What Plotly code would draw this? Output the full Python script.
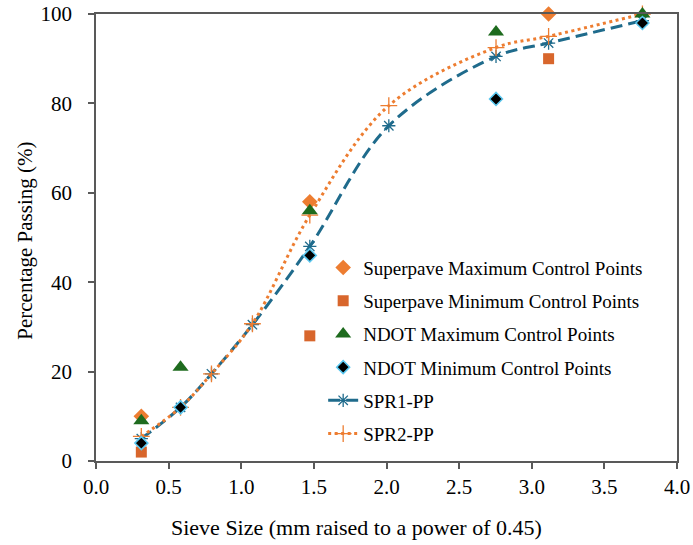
import plotly.graph_objects as go

sieve = [0.312, 0.582, 0.795, 1.077, 1.472, 2.016, 2.754, 3.116, 3.762]
spr1 = [5, 12, 19.5, 30.5, 48, 75, 90.5, 93.5, 98.5]
spr2 = [5.5, 12, 19.5, 30.7, 55, 79.5, 92.5, 95, 100]

sp_max_x = [0.312, 1.472, 3.116]
sp_max_y = [10, 58, 100]
sp_min_x = [0.312, 1.472, 3.116]
sp_min_y = [2, 28, 90]
ndot_max_x = [0.312, 0.582, 1.472, 2.754, 3.762]
ndot_max_y = [9, 21, 56, 96, 100]
ndot_min_x = [0.312, 0.582, 1.472, 2.754, 3.762]
ndot_min_y = [4, 12, 46, 81, 98]

x_ticks = [0, 0.5, 1.0, 1.5, 2.0, 2.5, 3.0, 3.5, 4.0]
y_ticks = [0, 20, 40, 60, 80, 100]

FONT = "Liberation Serif"

fig = go.Figure()
fig.add_trace(go.Scatter(x=sieve, y=spr1, mode="lines+markers", name="SPR1-PP", line_shape="spline",
                         line=dict(color="#1F6B8C", width=3, dash="12px,6px"),
                         marker=dict(symbol="asterisk-open", size=11, color="#1F6B8C",
                                     line=dict(width=1.3, color="#1F6B8C")),
                         cliponaxis=False, legendrank=5, legendgroup="e"))
fig.add_trace(go.Scatter(x=sieve, y=spr2, mode="lines+markers", name="SPR2-PP", line_shape="spline",
                         line=dict(color="#ED7D31", width=3, dash="3px,3.5px"),
                         marker=dict(symbol="cross-thin-open", size=12, color="#ED7D31",
                                     line=dict(width=1.3, color="#ED7D31")),
                         cliponaxis=False, legendrank=6, legendgroup="f"))
fig.add_trace(go.Scatter(x=sp_max_x, y=sp_max_y, mode="markers", name="Superpave Maximum Control Points",
                         marker=dict(symbol="diamond", size=12, color="#ED7D31"),
                         cliponaxis=False, legendrank=1, legendgroup="a"))
fig.add_trace(go.Scatter(x=sp_min_x, y=sp_min_y, mode="markers", name="Superpave Minimum Control Points",
                         marker=dict(symbol="square", size=11, color="#D8662C"),
                         cliponaxis=False, legendrank=2, legendgroup="b"))
fig.add_trace(go.Scatter(x=ndot_max_x, y=ndot_max_y, mode="markers", name="NDOT Maximum Control Points",
                         marker=dict(symbol="triangle-up", size=14, color="#1E6B1E"),
                         cliponaxis=False, legendrank=3, legendgroup="c"))
fig.add_trace(go.Scatter(x=ndot_min_x, y=ndot_min_y, mode="markers", name="NDOT Minimum Control Points",
                         marker=dict(symbol="diamond", size=10, color="black",
                                     line=dict(width=1.5, color="#5BC8F0")),
                         cliponaxis=False, legendrank=4, legendgroup="d"))

axis_common = dict(showline=True, linecolor="#595959", linewidth=1.5, mirror=True, ticks="outside",
                   ticklen=6, tickcolor="#595959", tickwidth=1.5, showgrid=False, zeroline=False,
                   automargin=False,
                   tickfont=dict(family=FONT, size=21, color="black"))
fig.update_layout(
    width=693, height=545,
    margin=dict(l=96, r=16, t=14, b=84),
    paper_bgcolor="white", plot_bgcolor="white",
    font=dict(family=FONT, color="black"),
    xaxis=dict(range=[0, 4], tickvals=x_ticks, tickformat=".1f", ticklabelstandoff=0, **axis_common),
    yaxis=dict(range=[0, 100], tickvals=y_ticks, ticklabelstandoff=12, **axis_common),
    legend=dict(x=0.391, y=0.475, xanchor="left", yanchor="top", bgcolor="rgba(0,0,0,0)",
                font=dict(family=FONT, size=19), tracegroupgap=5.5, itemsizing="trace"),
    showlegend=True,
    annotations=[
        dict(text="Sieve Size (mm raised to a power of 0.45)", xref="paper", yref="paper",
             x=0.449, y=-0.149, xanchor="center", yanchor="middle", showarrow=False,
             font=dict(family=FONT, size=22, color="black")),
        dict(text="Percentage Passing (%)", xref="paper", yref="paper",
             x=-0.122, y=0.493, xanchor="center", yanchor="middle", showarrow=False, textangle=-90,
             font=dict(family=FONT, size=21, color="black")),
    ],
)
fig.write_html("out.html", config={"displayModeBar": False},
               post_script="document.body.style.margin='0';")
